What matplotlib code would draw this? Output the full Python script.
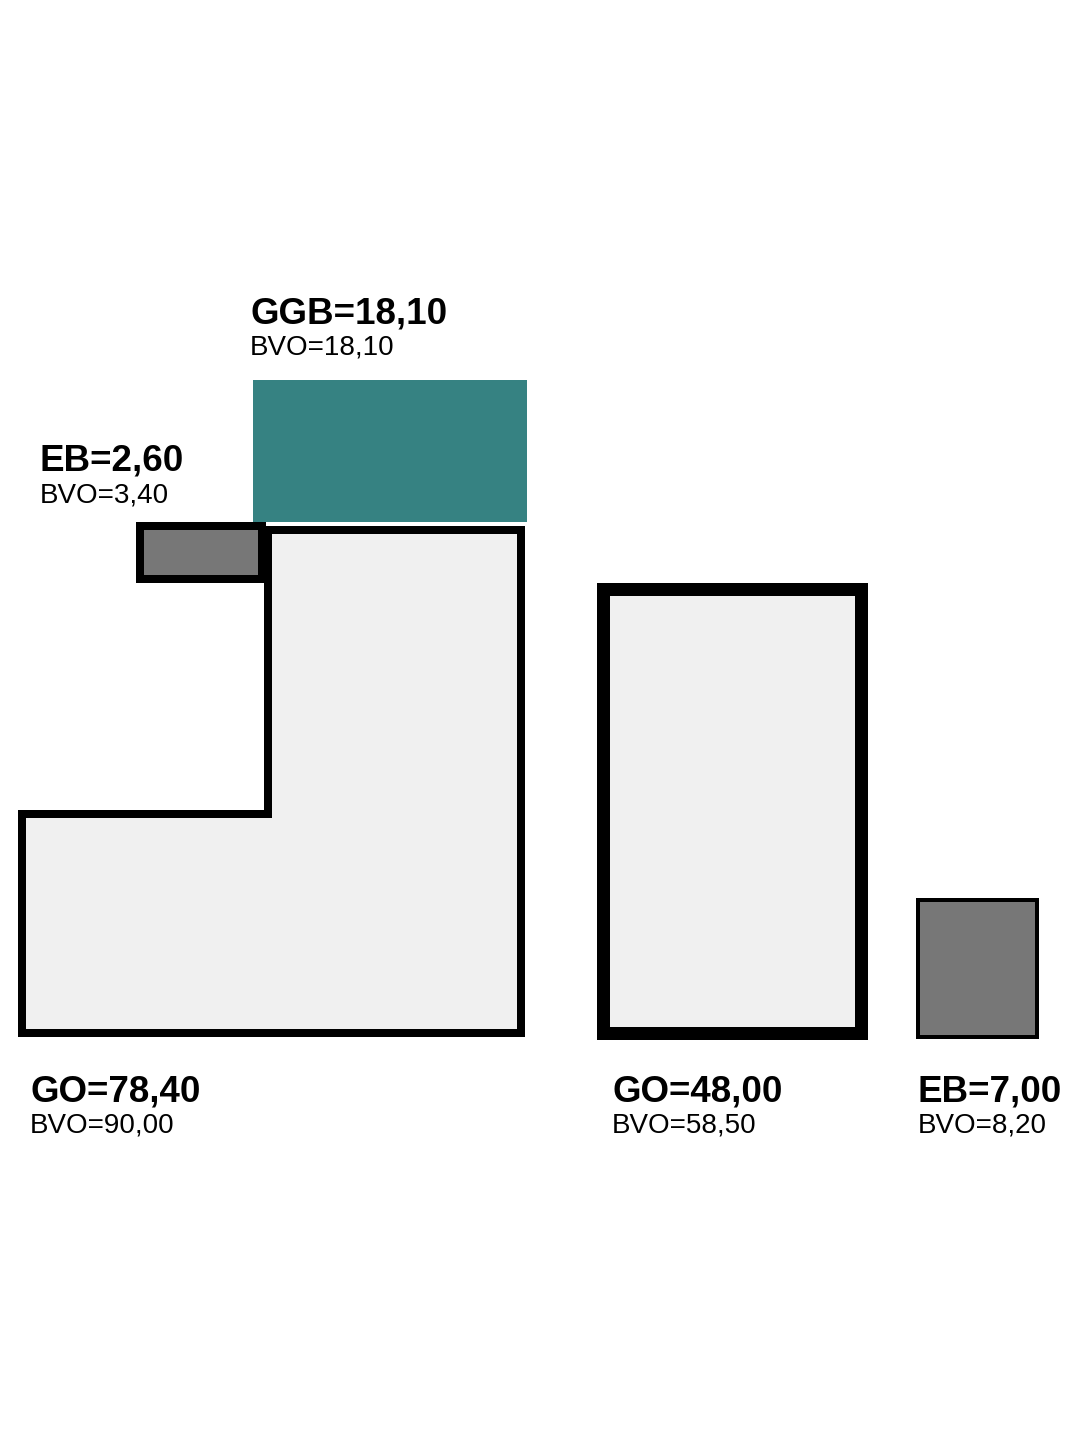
import matplotlib.pyplot as plt
from matplotlib.patches import Polygon

plt.rcParams['font.family'] = ['Liberation Sans', 'DejaVu Sans']

# rooms: outline (pixel coords on the plan), fill, border width (px)
names = ["GO", "EB", "GGB", "GO", "EB"]
values = ["78,40", "2,60", "18,10", "48,00", "7,00"]
bvo = ["90,00", "3,40", "18,10", "58,50", "8,20"]
shapes = [
    [(22, 814), (268, 814), (268, 530), (521, 530), (521, 1033), (22, 1033)],
    [(140, 526), (262, 526), (262, 579), (140, 579)],
    [(253, 380), (527, 380), (527, 522), (253, 522)],
    [(603, 589), (861, 589), (861, 1033), (603, 1033)],
    [(918, 900), (1037, 900), (1037, 1037), (918, 1037)],
]
fills = ["#f0f0f0", "#777777", "#368282", "#f0f0f0", "#777777"]
borders = [8, 8, 0, 13, 4]
label_pos = [(30, 1092), (40, 461), (250, 314), (612, 1092), (918, 1092)]

fig = plt.figure(figsize=(10.8, 14.4), dpi=100)
ax = fig.add_axes([0, 0, 1, 1])
ax.set_xlim(0, 1080)
ax.set_ylim(1440, 0)
ax.axis('off')

for pts, fc, lw in zip(shapes, fills, borders):
    ax.add_patch(Polygon(pts, closed=True, facecolor=fc,
                         edgecolor='black' if lw else 'none',
                         linewidth=lw * 0.72, joinstyle='miter'))

for (x, y), n, v, b in zip(label_pos, names, values, bvo):
    ax.text(x, y, f"{n}={v}", fontsize=26.5, fontweight='bold', va='center', ha='left')
    ax.text(x, y + 34, f"BVO={b}", fontsize=20, va='center', ha='left')

fig.savefig("out.png", dpi=100)
